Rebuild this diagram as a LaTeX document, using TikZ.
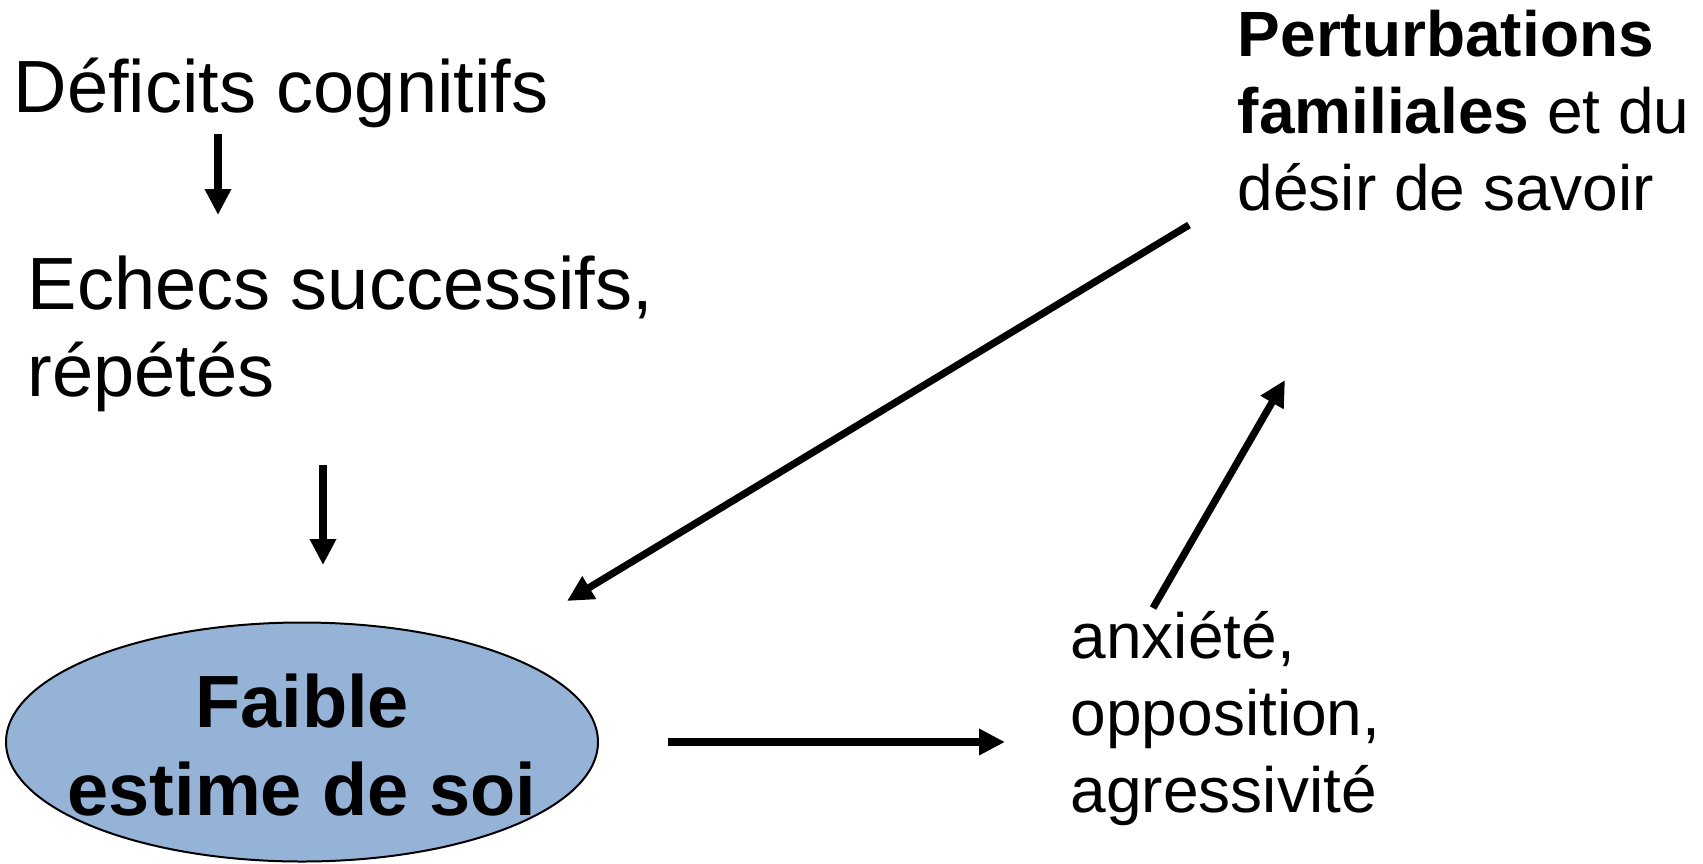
\documentclass[tikz,border=0pt]{standalone}
\usepackage{fontspec}
\setmainfont{Liberation Sans}
\usetikzlibrary{arrows.meta,shapes.geometric}
\definecolor{estimeblue}{RGB}{149,179,215}
\tikzset{every picture/.style={line width=0.75pt}}

\begin{document}
\begin{tikzpicture}[x=0.5pt,y=0.5pt,yscale=-1,xscale=1,
	bigtext/.style={font=\fontsize{37}{43.5}\selectfont, inner sep=0pt, align=left},
	smalltext/.style={font=\fontsize{32}{38.5}\selectfont, inner sep=0pt, align=left},
	fleche/.style={line width=3.6pt, -{Triangle[length=13pt,width=12.5pt]}}]
	\useasboundingbox (0,0) rectangle (1703,863);

	%Shape: Ellipse [id:faible]
	\node (faible) [ellipse, draw, line width=1pt, fill=estimeblue, minimum width=296pt, minimum height=119.5pt, inner sep=0pt] at (302,742) {};
	% Text Node
	\node (faibletxt) [inner sep=0pt, align=center, font=\fontsize{37}{44}\selectfont\bfseries] at (302,745) {Faible\\estime de soi};

	% Text Node
	\node (deficits) [bigtext, anchor=base west] at (13,112) {Déficits cognitifs};
	% Text Node
	\node (echecs) [bigtext, anchor=base west] at (27,396) {Echecs successifs,\\répétés};
	% Text Node
	\node (perturb) [smalltext, anchor=base west] at (1237,210) {\textbf{Perturbations}\\\textbf{familiales} et du\\désir de savoir};
	% Text Node
	\node (anx) [smalltext, anchor=base west] at (1070,812) {anxiété,\\opposition,\\agressivité};

	% Arrow ends
	\coordinate (a1) at (218,134);
	\coordinate (b1) at (218,215);
	\coordinate (a2) at (323,465);
	\coordinate (b2) at (323,565);
	\coordinate (a3) at (1189,225);
	\coordinate (b3) at (567,601);
	\coordinate (a4) at (668,742);
	\coordinate (b4) at (1005,742);
	\coordinate (a5) at (1153,608);
	\coordinate (b5) at (1285,380);

	%Straight Lines
	\draw [fleche] (a1) -- (b1);
	\draw [fleche] (a2) -- (b2);
	\draw [fleche] (a3) -- (b3);
	\draw [fleche] (a4) -- (b4);
	\draw [fleche] (a5) -- (b5);

\end{tikzpicture}
\end{document}
